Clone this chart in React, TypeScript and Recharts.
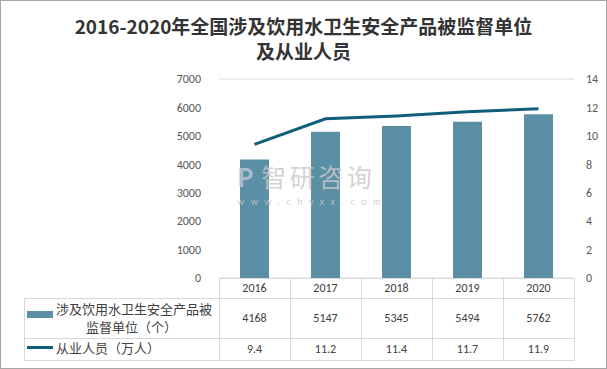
import React from 'react';
import { ComposedChart, Bar, Line, XAxis, YAxis, CartesianGrid } from 'recharts';

const years = ['2016', '2017', '2018', '2019', '2020'];
const units = [4168, 5147, 5345, 5494, 5762];
const staff = [9.4, 11.2, 11.4, 11.7, 11.9];
const leftTicks = [0, 1000, 2000, 3000, 4000, 5000, 6000, 7000];
const rightTicks = [0, 2, 4, 6, 8, 10, 12, 14];
const unitsLabel = ['涉及饮用水卫生安全产品被', '监督单位（个）'];
const staffLabel = '从业人员（万人）';
const titleLines = ['2016-2020年全国涉及饮用水卫生安全产品被监督单位', '及从业人员'];

const W = 607;
const H = 369;
const PLOT_L = 219;
const PLOT_R = 574;
const PLOT_T = 79;
const PLOT_B = 278;
const ROW0_B = 298;
const ROW1_B = 338;
const ROW2_B = 360;
const TABLE_L = 24;

const BAR_COLOR = '#5b8fa6';
const LINE_COLOR = '#0f5f7c';
const GRID = '#d9d9d9';
const TEXT = '#404040';
const FONT = "Carlito, 'Liberation Sans', 'Noto Sans CJK SC', sans-serif";
const CJK = "'Noto Sans CJK SC', sans-serif";

const data = years.map((y, i) => ({ year: y, units: units[i], staff: staff[i] }));

const App: React.FC = () => {
  const colW = (PLOT_R - PLOT_L) / years.length;
  const line = (x1: number, y1: number, x2: number, y2: number, key: string) => (
    <div
      key={key}
      style={{
        position: 'absolute',
        left: Math.min(x1, x2),
        top: Math.min(y1, y2),
        width: Math.max(1, Math.abs(x2 - x1)),
        height: Math.max(1, Math.abs(y2 - y1)),
        background: GRID,
      }}
    />
  );
  const cell = (text: string, i: number, top: number, bottom: number, key: string) => (
    <div
      key={key}
      style={{
        position: 'absolute',
        left: PLOT_L + colW * i,
        width: colW,
        top,
        height: bottom - top,
        lineHeight: `${bottom - top}px`,
        textAlign: 'center',
        fontSize: 12,
        color: TEXT,
      }}
    >
      {text}
    </div>
  );
  const label = (text: string, left: number, top: number, key: string) => (
    <div
      key={key}
      style={{
        position: 'absolute',
        left,
        top,
        fontSize: 13,
        lineHeight: '15px',
        color: TEXT,
        fontFamily: CJK,
        whiteSpace: 'nowrap',
      }}
    >
      {text}
    </div>
  );

  return (
    <div
      style={{
        position: 'absolute',
        left: 0,
        top: 0,
        width: W,
        height: H,
        background: '#fff',
        fontFamily: FONT,
        boxSizing: 'border-box',
        border: '1px solid #a6a6a6',
        overflow: 'hidden',
      }}
    >
      {titleLines.map((t, i) => (
        <div
          key={'t' + i}
          style={{
            position: 'absolute',
            left: 0,
            top: 15 + i * 25,
            width: W - 2,
            textAlign: 'center',
            fontWeight: 'bold',
            fontSize: 19,
            lineHeight: '20px',
            color: '#333',
            fontFamily: CJK,
            whiteSpace: 'nowrap',
          }}
        >
          {t}
        </div>
      ))}

      <div style={{ position: 'absolute', left: -1, top: -1 }}>
        <ComposedChart
          width={W}
          height={H}
          data={data}
          margin={{ top: PLOT_T, right: 0, bottom: H - PLOT_B, left: PLOT_L - 60 }}
        >
          <CartesianGrid vertical={false} stroke={GRID} />
          <XAxis dataKey="year" hide />
          <YAxis
            yAxisId="left"
            width={60}
            domain={[0, 7000]}
            ticks={leftTicks}
            axisLine={false}
            tickLine={false}
            tick={{ fill: '#595959', fontSize: 12, fontFamily: FONT }}
            tickMargin={12}
          />
          <YAxis
            yAxisId="right"
            orientation="right"
            width={33}
            domain={[0, 14]}
            ticks={rightTicks}
            axisLine={false}
            tickLine={false}
            tick={{ fill: '#595959', fontSize: 12, fontFamily: FONT, textAnchor: 'start' }}
            tickMargin={6}
          />
          <Bar yAxisId="left" dataKey="units" fill={BAR_COLOR} barSize={29} isAnimationActive={false} />
          <Line
            yAxisId="right"
            dataKey="staff"
            stroke={LINE_COLOR}
            strokeWidth={3}
            dot={false}
            type="linear"
            isAnimationActive={false}
          />
        </ComposedChart>
      </div>

      {/* watermark */}
      <div
        style={{
          position: 'absolute',
          left: 236,
          top: 163,
          fontSize: 25,
          lineHeight: '25px',
          letterSpacing: 3.5,
          fontFamily: CJK,
          color: '#c9c9c9',
          opacity: 0.8,
          whiteSpace: 'nowrap',
        }}
      >
        <span style={{ color: '#b8c6d6', fontWeight: 'bold', marginRight: 4 }}>P</span>智研咨询
      </div>
      <div
        style={{
          position: 'absolute',
          left: 236,
          top: 196,
          fontSize: 10,
          lineHeight: '10px',
          letterSpacing: 6.5,
          color: '#c9c9c9',
          opacity: 0.8,
          whiteSpace: 'nowrap',
        }}
      >
        www.chyxx.com
      </div>

      {/* data table */}
      <div style={{ position: 'absolute', left: -1, top: -1, width: W, height: H }}>
        {line(PLOT_L, PLOT_B, PLOT_R + 1, PLOT_B, 'h0')}
        {line(TABLE_L, ROW0_B, PLOT_R + 1, ROW0_B, 'h1')}
        {line(TABLE_L, ROW1_B, PLOT_R + 1, ROW1_B, 'h2')}
        {line(TABLE_L, ROW2_B, PLOT_R + 1, ROW2_B, 'h3')}
        {line(TABLE_L, ROW0_B, TABLE_L, ROW2_B, 'vL')}
        {years.map((_, i) => line(PLOT_L + colW * i, PLOT_B, PLOT_L + colW * i, ROW2_B, 'v' + i))}
        {line(PLOT_R, PLOT_B, PLOT_R, ROW2_B, 'vR')}

        {years.map((y, i) => cell(y, i, PLOT_B, ROW0_B, 'y' + i))}
        {units.map((v, i) => cell(String(v), i, ROW0_B, ROW1_B, 'u' + i))}
        {staff.map((v, i) => cell(v.toFixed(1), i, ROW1_B, ROW2_B, 's' + i))}

        <div style={{ position: 'absolute', left: 27, top: 311, width: 26, height: 7, background: BAR_COLOR }} />
        {label(unitsLabel[0], 56, 301, 'l0')}
        {label(unitsLabel[1], 86, 319, 'l1')}

        <div style={{ position: 'absolute', left: 27, top: 346, width: 26, height: 3, background: LINE_COLOR }} />
        {label(staffLabel, 56, ROW1_B + 2, 'l2')}
      </div>
    </div>
  );
};

export default App;
